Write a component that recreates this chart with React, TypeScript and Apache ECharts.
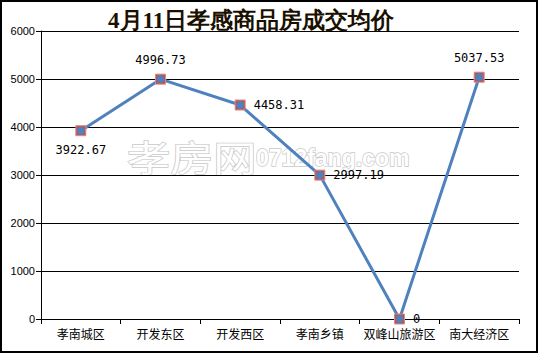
import React, { useEffect, useRef } from "react";
import * as echarts from "echarts";

const categories = ["孝南城区", "开发东区", "开发西区", "孝南乡镇", "双峰山旅游区", "南大经济区"];
const prices = [3922.67, 4996.73, 4458.31, 2997.19, 0, 5037.53];
const labelPositions = ["bottom", "top", "right", "right", "right", "top"];
const titleText = "4月11日孝感商品房成交均价";

export default function App() {
  const ref = useRef<HTMLDivElement>(null);
  useEffect(() => {
    document.body.style.margin = "0";
    const chart = echarts.init(ref.current!, null, { renderer: "svg" });
    chart.setOption({
      animation: false,
      backgroundColor: "#fff",
      title: {
        text: titleText,
        left: 103,
        top: 4,
        textStyle: { fontFamily: "serif", fontSize: 23, fontWeight: "bold", color: "#1a1000" },
      },
      graphic: [
        {
          type: "rect",
          shape: { x: 1, y: 1, width: 536, height: 351 },
          style: { fill: "none", stroke: "#000", lineWidth: 2 },
          z: 100,
        },
        {
          type: "text",
          x: 127,
          y: 138,
          scaleX: 1.2,
          style: {
            text: "孝房网",
            font: "normal 36px 'Noto Sans CJK SC'",
            fill: "#fff",
            stroke: "#c8c8c8",
            lineWidth: 1.4,
          },
          z: 0,
        },
        {
          type: "text",
          x: 256,
          y: 146,
          style: {
            text: "0712fang.com",
            font: "bold 23px Arial, 'Liberation Sans'",
            fill: "#fff",
            stroke: "#c8c8c8",
            lineWidth: 1.4,
          },
          z: 0,
        },
      ],
      grid: { left: 41, right: 19, top: 31, bottom: 34, containLabel: false },
      xAxis: {
        type: "category",
        data: categories,
        boundaryGap: true,
        axisLine: { lineStyle: { color: "#000", width: 1 } },
        axisTick: { show: true, length: 5, lineStyle: { color: "#000" } },
        axisLabel: { color: "#000", fontSize: 12, fontFamily: "'Noto Sans CJK SC'", margin: 8, interval: 0 },
      },
      yAxis: {
        type: "value",
        min: 0,
        max: 6000,
        interval: 1000,
        axisLine: { show: true, lineStyle: { color: "#000" } },
        axisTick: { show: true, length: 5, lineStyle: { color: "#000" } },
        splitLine: { lineStyle: { color: "#000", width: 1 } },
        axisLabel: {
          color: "#000",
          fontSize: 11,
          fontFamily: "Arial, 'Liberation Sans'",
          margin: 6,
          formatter: (v: number) => String(v),
        },
      },
      series: [
        {
          type: "line",
          data: prices.map((v, i) => ({
            value: v,
            label: { position: labelPositions[i] },
          })),
          lineStyle: { color: "#4f81bd", width: 3 },
          itemStyle: { color: "#c0504d", borderColor: "#d88a88", borderWidth: 1 },
          symbol: "rect",
          symbolSize: 10,
          z: 3,
          label: {
            show: true,
            color: "#000",
            fontSize: 12,
            fontFamily: "'DejaVu Sans Mono', monospace",
            distance: 8,
            formatter: (p: any) => String(p.value),
          },
        },
        {
          type: "scatter",
          data: prices,
          symbol: "circle",
          symbolSize: 8,
          itemStyle: { color: "#4f81bd", opacity: 1 },
          z: 5,
          silent: true,
        },
      ],
    });
    return () => chart.dispose();
  }, []);
  return <div ref={ref} style={{ width: 538, height: 353 }} />;
}
